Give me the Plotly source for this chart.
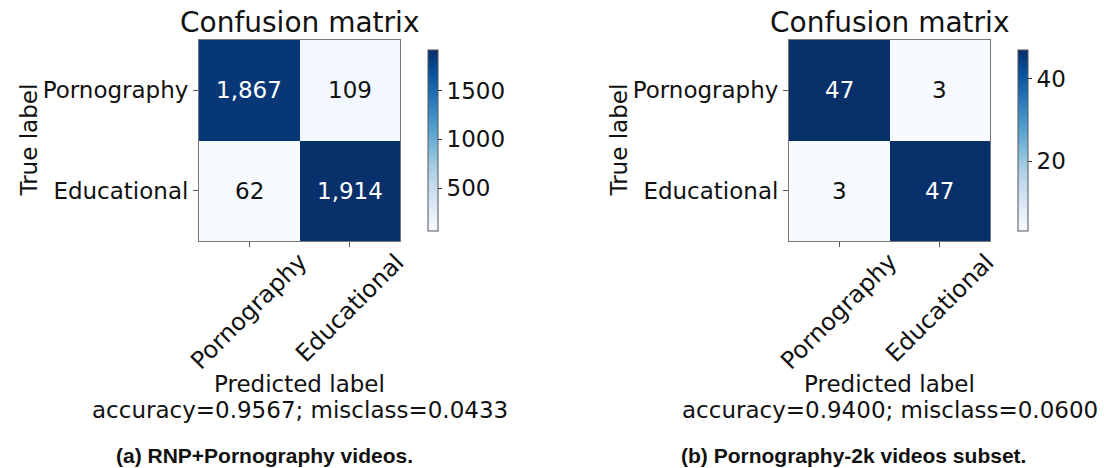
import plotly.graph_objects as go

classes = ["Pornography", "Educational"]
cm_a = [[1867, 109], [62, 1914]]
cm_b = [[47, 3], [3, 47]]
cbar_ticks_a = [500, 1000, 1500]
cbar_ticks_b = [20, 40]
acc_a = "accuracy=0.9567; misclass=0.0433"
acc_b = "accuracy=0.9400; misclass=0.0600"
caption_a = "(a) RNP+Pornography videos."
caption_b = "(b) Pornography-2k videos subset."

blues = [[0.0, "#f7fbff"], [0.125, "#deebf7"], [0.25, "#c6dbef"], [0.375, "#9ecae1"],
         [0.5, "#6baed6"], [0.625, "#4292c6"], [0.75, "#2171b5"], [0.875, "#08519c"],
         [1.0, "#08306b"]]

W, H = 1104, 468
FONT = "DejaVu Sans"
FS = 23


def px(x):
    return x / W


def py(y):
    return 1 - y / H


panels = [
    dict(cm=cm_a, ticks=cbar_ticks_a, acc=acc_a, cap=caption_a, x0=199, x1=400, cb=418, cap_x=264,
         ylab_x=28, xa="x", ya="y"),
    dict(cm=cm_b, ticks=cbar_ticks_b, acc=acc_b, cap=caption_b, x0=789, x1=990, cb=1008, cap_x=853,
         ylab_x=618, xa="x2", ya="y2"),
]

top, bot = 40, 241
fig = go.Figure()
annotations = []
for i, p in enumerate(panels):
    cm = p["cm"]
    flat = [v for r in cm for v in r]
    zmin, zmax = min(flat), max(flat)
    thresh = zmax / 2
    fig.add_trace(go.Heatmap(
        z=cm, x=classes, y=classes, colorscale=blues, zmin=zmin, zmax=zmax,
        xaxis=p["xa"], yaxis=p["ya"], hoverinfo="skip",
        colorbar=dict(x=px(p["cb"]), xanchor="left", y=py(top), yanchor="top",
                      len=bot - top, lenmode="pixels", thickness=10,
                      outlinecolor="#555555", outlinewidth=1,
                      tickvals=p["ticks"], ticks="outside", ticklen=4, tickcolor="#333",
                      tickfont=dict(family=FONT, size=FS, color="#111")),
    ))
    for r in range(2):
        for c in range(2):
            v = cm[r][c]
            annotations.append(dict(
                x=classes[c], y=classes[r], xref=p["xa"], yref=p["ya"],
                text=f"{v:,}", showarrow=False,
                font=dict(family=FONT, size=FS, color="white" if v > thresh else "#111")))
    for c in range(2):
        annotations.append(dict(
            x=classes[c], y=py(245), xref=p["xa"], yref="paper", text=classes[c],
            textangle=-45, showarrow=False, xanchor="center", yanchor="top",
            font=dict(family=FONT, size=24, color="#111")))
    cx = (p["x0"] + p["x1"]) / 2
    annotations += [
        dict(x=px(cx), y=py(22), xref="paper", yref="paper", text="Confusion matrix",
             showarrow=False, font=dict(family=FONT, size=28, color="#111"),
             xanchor="center", yanchor="middle"),
        dict(x=px(p["ylab_x"]), y=py((top + bot) / 2), xref="paper", yref="paper",
             text="True label", textangle=-90, showarrow=False,
             font=dict(family=FONT, size=FS, color="#111"), xanchor="center", yanchor="middle"),
        dict(x=px(cx), y=py(384), xref="paper", yref="paper", text="Predicted label",
             showarrow=False, font=dict(family=FONT, size=FS, color="#111"),
             xanchor="center", yanchor="middle"),
        dict(x=px(cx), y=py(410), xref="paper", yref="paper", text=p["acc"],
             showarrow=False, font=dict(family=FONT, size=FS, color="#111"),
             xanchor="center", yanchor="middle"),
        dict(x=px(p["cap_x"]), y=py(455), xref="paper", yref="paper", text="<b>" + p["cap"] + "</b>",
             showarrow=False, font=dict(family="Liberation Sans, Arial", size=21, color="#111"),
             xanchor="center", yanchor="middle"),
    ]
    ax = dict(domain=[px(p["x0"]), px(p["x1"])], range=[-0.5, 1.5], autorange=False,
              showline=True, mirror=True,
              linecolor="#777", linewidth=1, ticks="outside", ticklen=5, tickcolor="#555",
              showticklabels=False, showgrid=False, zeroline=False,
              fixedrange=True, automargin=False)
    ay = dict(domain=[py(bot), py(top)], range=[1.5, -0.5], autorange=False,
              showline=True, mirror=True,
              linecolor="#777", linewidth=1, ticks="outside", ticklen=5, tickcolor="#555",
              tickfont=dict(family=FONT, size=FS, color="#111"), showgrid=False, zeroline=False,
              fixedrange=True, automargin=False)
    if i == 0:
        ax["anchor"] = "y"
        ay["anchor"] = "x"
        fig.update_layout(xaxis=ax, yaxis=ay)
    else:
        ax["anchor"] = "y2"
        ay["anchor"] = "x2"
        fig.update_layout(xaxis2=ax, yaxis2=ay)

fig.update_layout(width=W, height=H, margin=dict(l=0, r=0, t=0, b=0, autoexpand=False),
                  paper_bgcolor="white", plot_bgcolor="white",
                  annotations=annotations, showlegend=False)
fig.write_html("out.html")
